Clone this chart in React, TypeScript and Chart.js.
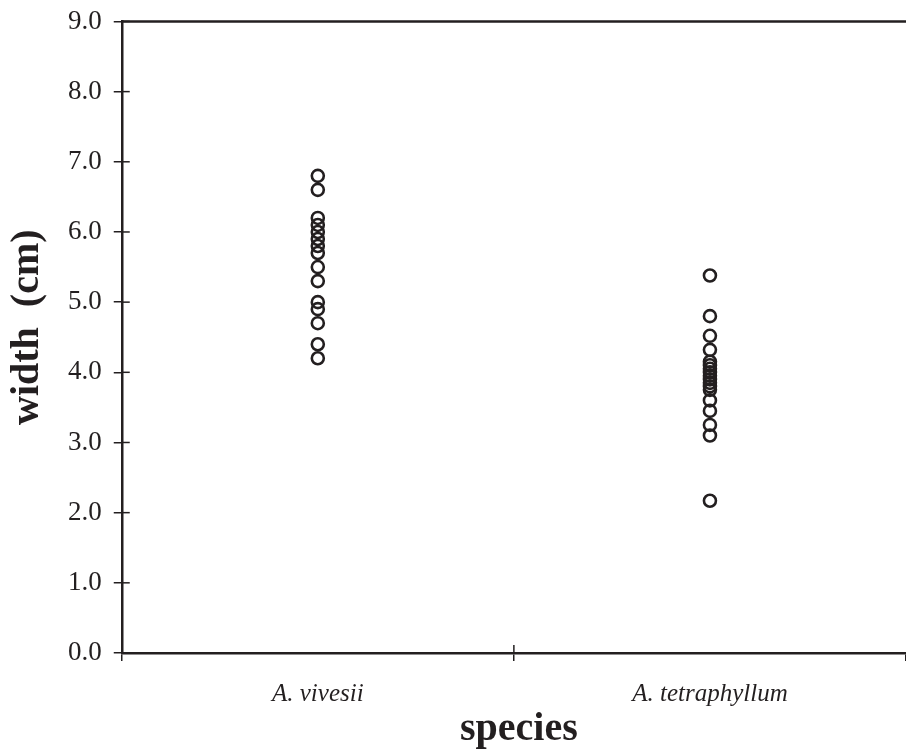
import React, { useEffect, useRef } from "react";
import { Chart, registerables } from "chart.js";

Chart.register(...registerables);

const categories = ["A. vivesii", "A. tetraphyllum"];
const vivesiiWidths = [6.8, 6.6, 6.2, 6.1, 6.0, 5.9, 5.8, 5.7, 5.5, 5.3, 5.0, 4.9, 4.7, 4.4, 4.2];
const tetraphyllumWidths = [5.38, 4.8, 4.52, 4.32, 4.15, 4.1, 4.05, 4.0, 3.95, 3.9, 3.85, 3.8, 3.75, 3.6, 3.45, 3.25, 3.1, 2.17];
const yMin = 0;
const yMax = 9;
const yStep = 1;

const INK = "#231f20";
const SERIF = "'Liberation Serif', 'Times New Roman', serif";

const innerTicks = {
  id: "innerTicks",
  afterDraw(chart: any) {
    const { ctx, chartArea, scales } = chart;
    const x = scales.x;
    const y = scales.y;
    ctx.save();
    ctx.strokeStyle = INK;
    ctx.lineWidth = 1.5;
    y.ticks.forEach((t: any) => {
      const py = y.getPixelForValue(t.value);
      ctx.beginPath();
      ctx.moveTo(chartArea.left, py);
      ctx.lineTo(chartArea.left + 8, py);
      ctx.stroke();
    });
    for (let i = 1; i < categories.length; i++) {
      const px = (x.getPixelForValue(i - 1) + x.getPixelForValue(i)) / 2;
      ctx.beginPath();
      ctx.moveTo(px, chartArea.bottom);
      ctx.lineTo(px, chartArea.bottom - 8);
      ctx.stroke();
    }
    ctx.lineWidth = 2.5;
    ctx.beginPath();
    ctx.moveTo(chartArea.left, chartArea.top);
    ctx.lineTo(chart.width, chartArea.top);
    ctx.stroke();
    ctx.restore();
  },
};

export default function App() {
  const ref = useRef<HTMLCanvasElement>(null);
  useEffect(() => {
    if (!ref.current) return;
    const pointStyle = {
      pointStyle: "circle" as const,
      pointRadius: 6,
      pointBorderWidth: 2.6,
      pointBorderColor: INK,
      pointBackgroundColor: "rgba(0,0,0,0)",
      borderColor: INK,
      backgroundColor: "rgba(0,0,0,0)",
    };
    const chart = new Chart(ref.current, {
      type: "scatter",
      data: {
        labels: categories,
        datasets: [
          {
            label: categories[0],
            data: vivesiiWidths.map((v) => ({ x: categories[0], y: v })) as any,
            ...pointStyle,
          },
          {
            label: categories[1],
            data: tetraphyllumWidths.map((v) => ({ x: categories[1], y: v })) as any,
            ...pointStyle,
          },
        ],
      },
      options: {
        animation: false,
        responsive: false,
        layout: { autoPadding: false, padding: { top: 0, right: -5, left: 4, bottom: -3 } },
        plugins: { legend: { display: false }, tooltip: { enabled: false } },
        scales: {
          x: {
            type: "category",
            labels: categories,
            offset: true,
            grid: {
              offset: true,
              drawOnChartArea: false,
              drawTicks: true,
              tickLength: 8,
              color: INK,
              lineWidth: 1.5,
            },
            border: { display: true, color: INK, width: 2.5 },
            ticks: {
              color: INK,
              padding: 18,
              font: { family: SERIF, size: 25, style: "italic" },
            },
            title: {
              display: true,
              text: " species",
              color: INK,
              padding: { top: -21, bottom: 0 },
              font: { family: SERIF, size: 40, weight: "bold" },
            },
          },
          y: {
            min: yMin,
            max: yMax,
            grid: {
              drawOnChartArea: false,
              drawTicks: true,
              tickLength: 8,
              color: INK,
              lineWidth: 1.5,
            },
            border: { display: true, color: INK, width: 2.5 },
            ticks: {
              stepSize: yStep,
              color: INK,
              padding: 12,
              callback: (v: any) => Number(v).toFixed(1),
              font: { family: SERIF, size: 27, lineHeight: 0.7 },
            },
            title: {
              display: true,
              text: "  width  (cm)",
              color: INK,
              padding: { top: 0, bottom: 4 },
              font: { family: SERIF, size: 40, weight: "bold" },
            },
          },
        },
      },
      plugins: [innerTicks],
    });
    return () => chart.destroy();
  }, []);
  return (
    <div style={{ position: "fixed", left: 0, top: 0, width: 906, height: 751, background: "#fff" }}>
      <canvas ref={ref} width={906} height={751} style={{ display: "block" }} />
    </div>
  );
}
